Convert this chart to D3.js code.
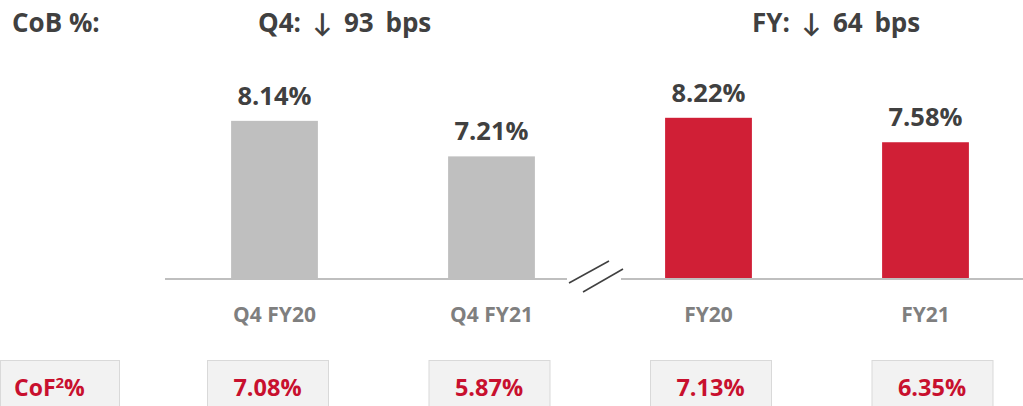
<!DOCTYPE html>
<html>
<head>
<meta charset="utf-8">
<script src="https://cdn.jsdelivr.net/npm/d3@7"></script>
<style>
  body { margin: 0; background: #fff; }
  text { font-family: "Open Sans", Lato, sans-serif; font-weight: bold; }
</style>
</head>
<body>
<div id="chart"></div>
<script>
var categories = ["Q4 FY20", "Q4 FY21", "FY20", "FY21"];
var cobValues = [8.14, 7.21, 8.22, 7.58];
var cofValues = [7.08, 5.87, 7.13, 6.35];
var groupOf = ["q4", "q4", "fy", "fy"];
var headings = [
  {text: "CoB %:", x: 12},
  {text: "Q4: \u2193 93 bps", x: 258},
  {text: "FY: \u2193 64 bps", x: 752}
];

var width = 1023, height = 406;
var baseY = 279;

var svg = d3.select("#chart").append("svg")
    .attr("width", width)
    .attr("height", height);

var x = d3.scaleBand()
    .domain(categories)
    .range([166, 1034])
    .paddingInner(0.6)
    .paddingOuter(0.3);

// the CoF boxes below don't sit exactly under the bars
var xBox = d3.scalePoint()
    .domain(categories)
    .range([267.5, 932]);

var y = d3.scaleLinear()
    .domain([4, 9])
    .range([baseY, baseY - 5 * 38.2]);

var color = d3.scaleOrdinal()
    .domain(["q4", "fy"])
    .range(["#bfbfbf", "#d01f36"]);

var data = categories.map((c, i) => ({cat: c, cob: cobValues[i], cof: cofValues[i], grp: groupOf[i]}));

// headings
svg.selectAll(".heading")
  .data(headings).enter()
  .append("text")
    .attr("class", "heading")
    .attr("x", d => d.x)
    .attr("y", 32)
    .attr("fill", "#404040")
    .style("font-size", "26px")
    .style("word-spacing", (d, i) => i == 0 ? "0px" : "5px")
    .text(d => d.text);

// bars
svg.selectAll(".bar")
  .data(data).enter()
  .append("rect")
    .attr("class", "bar")
    .attr("x", d => x(d.cat))
    .attr("width", x.bandwidth())
    .attr("y", d => y(d.cob))
    .attr("height", d => y(4) - y(d.cob))
    .attr("fill", d => color(d.grp));

svg.selectAll(".val")
  .data(data).enter()
  .append("text")
    .attr("class", "val")
    .attr("x", d => x(d.cat) + x.bandwidth() / 2)
    .attr("y", d => y(d.cob) - 16)
    .attr("text-anchor", "middle")
    .attr("fill", "#404040")
    .style("font-size", "25.5px")
    .text(d => d.cob.toFixed(2) + "%");

// axis with break
svg.append("line")
    .attr("x1", 165).attr("x2", 567)
    .attr("y1", baseY).attr("y2", baseY)
    .attr("stroke", "#bfbfbf").attr("stroke-width", 2);
svg.append("line")
    .attr("x1", 621).attr("x2", width)
    .attr("y1", baseY).attr("y2", baseY)
    .attr("stroke", "#bfbfbf").attr("stroke-width", 2);
svg.append("line")
    .attr("x1", 569).attr("y1", 283).attr("x2", 609).attr("y2", 261)
    .attr("stroke", "#404040").attr("stroke-width", 1.5);
svg.append("line")
    .attr("x1", 583).attr("y1", 292).attr("x2", 623).attr("y2", 269)
    .attr("stroke", "#404040").attr("stroke-width", 1.5);

svg.selectAll(".cat")
  .data(data).enter()
  .append("text")
    .attr("class", "cat")
    .attr("x", d => x(d.cat) + x.bandwidth() / 2)
    .attr("y", 322)
    .attr("text-anchor", "middle")
    .attr("fill", "#7f7f7f")
    .style("font-size", "21px")
    .text(d => d.cat);

// CoF boxes
var boxW = 121;
svg.append("rect")
    .attr("x", 0.5).attr("y", 360.5)
    .attr("width", 119).attr("height", 60)
    .attr("fill", "#f2f2f2").attr("stroke", "#d9d9d9");
var cofLabel = svg.append("text")
    .attr("x", 14).attr("y", 396)
    .attr("fill", "#c8102e")
    .style("font-size", "23px");
cofLabel.append("tspan").text("CoF");
cofLabel.append("tspan").attr("dy", -8).style("font-size", "15px").text("2");
cofLabel.append("tspan").attr("dy", 8).text("%");

svg.selectAll(".cofbox")
  .data(data).enter()
  .append("rect")
    .attr("class", "cofbox")
    .attr("x", d => xBox(d.cat) - boxW / 2 + 0.5)
    .attr("y", 360.5)
    .attr("width", boxW)
    .attr("height", 60)
    .attr("fill", "#f2f2f2")
    .attr("stroke", "#d9d9d9");

svg.selectAll(".cof")
  .data(data).enter()
  .append("text")
    .attr("class", "cof")
    .attr("x", d => xBox(d.cat))
    .attr("y", 396)
    .attr("text-anchor", "middle")
    .attr("fill", "#c8102e")
    .style("font-size", "23.5px")
    .text(d => d.cof.toFixed(2) + "%");
</script>
</body>
</html>
